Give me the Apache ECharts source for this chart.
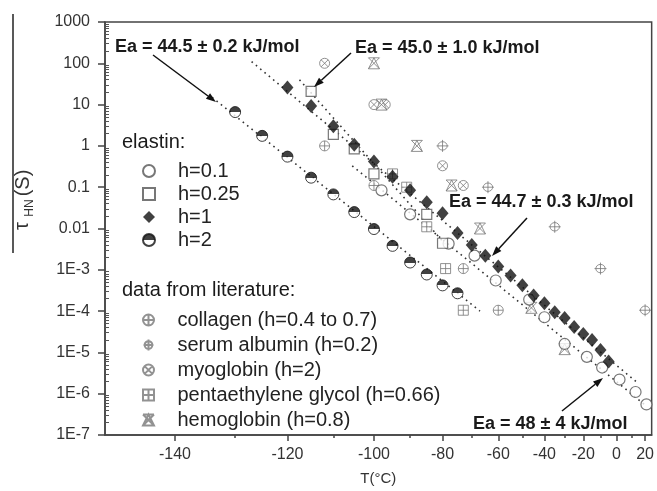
<!DOCTYPE html>
<html>
<head>
<meta charset="utf-8">
<script src="https://cdn.jsdelivr.net/npm/echarts@6/dist/echarts.min.js"></script>
<style>html,body{margin:0;padding:0;background:#fff}#main{width:657px;height:491px}</style>
</head>
<body>
<div id="main"></div>
<script>
const FONT = '"Liberation Sans", Arial, sans-serif';

// axis ranges and ticks (temperature in °C, x axis is 1/T)
const tMin = -150, tMax = 25;
const xMajorT = [-140, -120, -100, -80, -60, -40, -20, 0, 20];
const xMinorT = [-130, -110, -90, -70, -50, -30, -10, 10];
const yMin = 1e-7, yMax = 1000;

// elastin, h=0.1
const h01T = [-98, -90, -78, -69, -61, -47, -40, -30, -18, -9, 2, 13, 21];
const h01 = [0.084, 0.022, 0.0043, 0.0022, 5.5e-4, 1.9e-4, 7.1e-5, 1.6e-5, 7.8e-6, 4.3e-6, 2.2e-6, 1.1e-6, 5.5e-7];
// elastin, h=0.25
const h025T = [-115, -110, -105, -100, -85, -80];
const h025 = [21, 1.9, 0.85, 0.21, 0.022, 0.0044];
// elastin, h=1
const h1T = [-120, -115, -110, -105, -100, -95, -90, -85, -80, -75, -70, -65, -60, -55, -50, -45, -40, -35, -30, -25, -20, -15, -10, -5];
const h1 = [26, 9.2, 3.0, 1.06, 0.42, 0.18, 0.084, 0.043, 0.0235, 0.0078, 0.0040, 0.0022, 0.0012, 7.3e-4, 4.2e-4, 2.4e-4, 1.55e-4, 9.4e-5, 6.8e-5, 4.1e-5, 2.8e-5, 2.0e-5, 1.15e-5, 6.0e-6];
// elastin, h=2
const h2T = [-130, -125, -120, -115, -110, -105, -100, -95, -90, -85, -80, -75];
const h2 = [6.6, 1.75, 0.55, 0.17, 0.067, 0.025, 0.0097, 0.0038, 0.0015, 7.7e-4, 4.2e-4, 2.7e-4];

// literature
const collagenT = [-112, -100, -73, -60];
const collagen = [1.0, 0.11, 1.07e-3, 1.05e-4];
const albuminT = [-80, -64, -35, -10, 20];
const albumin = [1.0, 0.10, 0.011, 1.07e-3, 1.05e-4];
const myoglobinT = [-112, -100, -97, -80, -73];
const myoglobin = [100, 10, 10, 0.33, 0.11];
const pentaT = [-95, -91, -85, -79, -73];
const penta = [0.21, 0.10, 0.011, 1.07e-3, 1.05e-4];
const hemoT = [-100, -98, -88, -77, -67, -46, -30];
const hemo = [100, 10, 1.0, 0.11, 0.010, 1.2e-4, 1.2e-5];

// Arrhenius fits (end points)
const fitH2T = [-134, -67], fitH2 = [15, 1e-4];
const fitH1T = [-127, 15], fitH1 = [110, 1.77e-6];
const fitH025T = [-117.5, -78], fitH025 = [40, 3.4e-3];
const fitH01T = [-105.5, 21], fitH01 = [0.33, 5e-7];

// T (°C) -> -1000/T(K), the x axis variable
const toU = t => -1000 / (t + 273.15);
const pts = (T, v) => T.map((t, i) => [toU(t), v[i]]);

const minorExp = [];
for (let e = -7; e < 3; e++) {
	for (let k = 2; k <= 9; k++) minorExp.push(e + Math.log10(k));
}

const halfFill = new echarts.graphic.LinearGradient(0, 0, 0, 1, [
	{offset: 0, color: '#111'}, {offset: 0.5, color: '#111'},
	{offset: 0.5, color: '#fff'}, {offset: 1, color: '#fff'}
]);

const SYM = {
	collagen: 'path://M1,10A9,9,0,1,1,19,10A9,9,0,1,1,1,10ZM1,10L19,10M10,1L10,19',
	albumin: 'path://M3,10A7,7,0,1,1,17,10A7,7,0,1,1,3,10ZM1,10L19,10M10,0L10,20',
	myoglobin: 'path://M1,10A9,9,0,1,1,19,10A9,9,0,1,1,1,10ZM3.6,3.6L16.4,16.4M16.4,3.6L3.6,16.4',
	penta: 'path://M1,1L19,1L19,19L1,19ZM1,10L19,10M10,1L10,19',
	hemo: 'path://M1,19L10,1L19,19ZM1,1L19,19M19,1L1,19M1,1L19,1'
};

function fit(name, T, v) {
	return {
		name: name, type: 'line', data: pts(T, v), symbol: 'none', z: 1,
		lineStyle: {color: '#333', width: 1.6, type: [1.6, 4]}
	};
}
function lit(name, T, v, sym, size) {
	return {
		name: name, type: 'scatter', data: pts(T, v), symbol: sym, symbolSize: size, z: 3,
		itemStyle: {color: '#fff', borderColor: '#777', borderWidth: 1}
	};
}

// arrow from (x1,y1) to tip (x2,y2)
function arrow(x1, y1, x2, y2) {
	const a = Math.atan2(y2 - y1, x2 - x1), L = 10, W = 3.5;
	const c = Math.cos(a), s = Math.sin(a);
	const bx = x2 - L * c, by = y2 - L * s;
	return [
		{type: 'line', z: 10, shape: {x1: x1, y1: y1, x2: bx, y2: by}, style: {stroke: '#111', lineWidth: 1.5}},
		{type: 'polygon', z: 10, shape: {points: [[x2, y2], [bx - W * s, by + W * c], [bx + W * s, by - W * c]]}, style: {fill: '#111'}}
	];
}
function label(text, x, y, size, bold) {
	return {
		type: 'text', x: x, y: y, z: 10,
		style: {text: text, font: (bold ? 'bold ' : '') + size + 'px ' + FONT, fill: '#1a1a1a', verticalAlign: 'middle'}
	};
}
function vtext(text, x, y, size) {
	return {
		type: 'text', x: x, y: y, rotation: Math.PI / 2, z: 10,
		style: {text: text, font: size + 'px ' + FONT, fill: '#333', align: 'center', verticalAlign: 'middle'}
	};
}

const axisLine = {onZero: false, lineStyle: {color: '#444', width: 1.5}};
const noLine = {show: false, onZero: false};
const legendText = {fontSize: 20, lineHeight: 20, color: '#222', fontFamily: FONT, padding: [0, 0, 0, 18]};

const option = {
	animation: false,
	backgroundColor: '#fff',
	grid: {left: 105, right: 3, top: 22, bottom: 54, show: true, borderColor: '#444', borderWidth: 1.5},
	xAxis: [{
		type: 'value', min: toU(tMin), max: toU(tMax), position: 'bottom',
		name: 'T(°C)', nameLocation: 'middle', nameGap: 36,
		nameTextStyle: {fontSize: 15, color: '#333', fontFamily: FONT},
		axisLine: axisLine, splitLine: {show: false},
		axisTick: {customValues: xMajorT.map(toU), length: 6, lineStyle: {color: '#444', width: 1.5}},
		axisLabel: {
			customValues: xMajorT.map(toU), margin: 12, fontSize: 16, color: '#333', fontFamily: FONT,
			formatter: v => String(Math.round(-1000 / v - 273.15) || 0)
		}
	}, {
		type: 'value', min: toU(tMin), max: toU(tMax), position: 'bottom',
		axisLine: noLine, splitLine: {show: false}, axisLabel: {show: false},
		axisTick: {customValues: xMinorT.map(toU), length: 3, lineStyle: {color: '#444', width: 1.5}}
	}],
	yAxis: [{
		type: 'log', logBase: 10, min: yMin, max: yMax, interval: 1, splitNumber: 10,
		axisLine: axisLine, splitLine: {show: false},
		axisTick: {length: 7, lineStyle: {color: '#444', width: 1.5}},
		axisLabel: {
			margin: 15, fontSize: 16, color: '#333', fontFamily: FONT,
			formatter: v => {
				const e = Math.round(Math.log10(v));
				if (e >= 0) return String(Math.pow(10, e));
				if (e === -1) return '0.1';
				if (e === -2) return '0.01';
				return '1E' + e;
			}
		}
	}, {
		type: 'value', min: -7, max: 3, position: 'left',
		axisLine: noLine, splitLine: {show: false}, axisLabel: {show: false},
		axisTick: {inside: true, customValues: minorExp, length: 4, lineStyle: {color: '#555', width: 1}}
	}],
	legend: [{
		data: ['h=0.1', 'h=0.25', 'h=1', 'h=2'], orient: 'vertical', left: 137, top: 156,
		itemWidth: 12, itemHeight: 12, itemGap: 3, selectedMode: false, textStyle: legendText
	}, {
		data: ['collagen (h=0.4 to 0.7)', 'serum albumin (h=0.2)', 'myoglobin (h=2)', 'pentaethylene glycol (h=0.66)', 'hemoglobin (h=0.8)'],
		orient: 'vertical', left: 137, top: 305,
		itemWidth: 12, itemHeight: 11, itemGap: 5, selectedMode: false, textStyle: legendText
	}],
	series: [
		fit('fit h=2', fitH2T, fitH2),
		fit('fit h=1', fitH1T, fitH1),
		fit('fit h=0.25', fitH025T, fitH025),
		fit('fit h=0.1', fitH01T, fitH01),
		lit('collagen (h=0.4 to 0.7)', collagenT, collagen, SYM.collagen, 10),
		lit('serum albumin (h=0.2)', albuminT, albumin, SYM.albumin, 12),
		lit('myoglobin (h=2)', myoglobinT, myoglobin, SYM.myoglobin, 10),
		lit('pentaethylene glycol (h=0.66)', pentaT, penta, SYM.penta, 10),
		lit('hemoglobin (h=0.8)', hemoT, hemo, SYM.hemo, 11),
		{
			name: 'h=0.1', type: 'scatter', data: pts(h01T, h01), symbol: 'circle', symbolSize: 11, z: 4,
			itemStyle: {color: '#fff', borderColor: '#555', borderWidth: 1.2}
		}, {
			name: 'h=0.25', type: 'scatter', data: pts(h025T, h025), symbol: 'rect', symbolSize: 10, z: 4,
			itemStyle: {color: '#fff', borderColor: '#555', borderWidth: 1.2}
		}, {
			name: 'h=1', type: 'scatter', data: pts(h1T, h1), symbol: 'diamond', symbolSize: [12, 14], z: 5,
			itemStyle: {color: '#111'}
		}, {
			name: 'h=2', type: 'scatter', data: pts(h2T, h2), symbol: 'circle', symbolSize: 11, z: 5,
			itemStyle: {color: halfFill, borderColor: '#111', borderWidth: 1}
		}
	],
	graphic: [
		{type: 'line', shape: {x1: 13, y1: 14, x2: 13, y2: 253}, style: {stroke: '#222', lineWidth: 1.5}},
		vtext('τ', 22, 226, 20),
		vtext('HN', 30, 208, 12),
		vtext('(S)', 23, 183, 20),
		label('elastin:', 122, 142, 20, false),
		label('data from literature:', 122, 290, 20, false),
		label('Ea = 44.5 ± 0.2 kJ/mol', 115, 47, 18, true),
		label('Ea = 45.0 ± 1.0 kJ/mol', 355, 48, 18, true),
		label('Ea = 44.7 ± 0.3 kJ/mol', 449, 202, 18, true),
		label('Ea = 48 ± 4 kJ/mol', 473, 424, 18, true)
	].concat(arrow(153, 55, 216, 102), arrow(351, 53, 314, 87), arrow(527, 218, 492, 256), arrow(562, 411, 603, 378))
};

const chart = echarts.init(document.getElementById('main'));
chart.setOption(option);
</script>
</body>
</html>
